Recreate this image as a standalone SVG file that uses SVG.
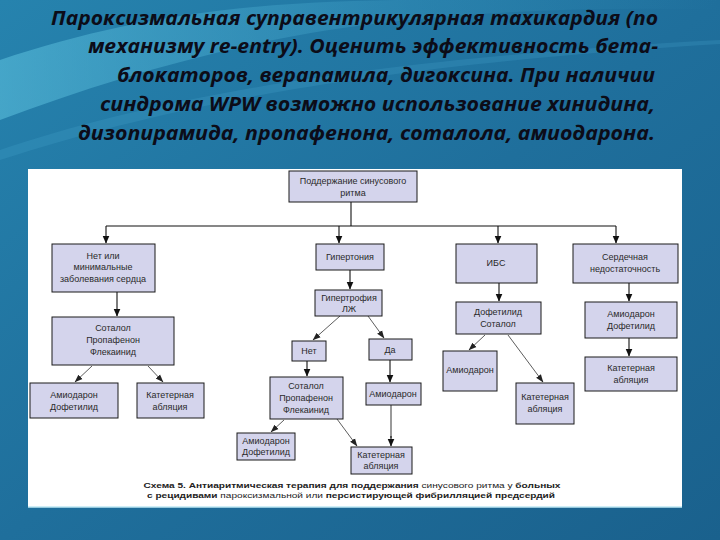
<svg xmlns="http://www.w3.org/2000/svg" width="720" height="540" viewBox="0 0 720 540">
<defs>
  <linearGradient id="bg" x1="0" y1="0" x2="1" y2="1">
    <stop offset="0" stop-color="#2683ae"/>
    <stop offset="0.5" stop-color="#1f6f9c"/>
    <stop offset="1" stop-color="#1a618d"/>
  </linearGradient>
  <linearGradient id="wave" x1="0" y1="0" x2="1" y2="0">
    <stop offset="0" stop-color="#5fc4e0" stop-opacity="0.55"/>
    <stop offset="0.6" stop-color="#3fa0c8" stop-opacity="0.25"/>
    <stop offset="1" stop-color="#3fa0c8" stop-opacity="0"/>
  </linearGradient>
  <marker id="ah" markerUnits="userSpaceOnUse" markerWidth="8" markerHeight="10" viewBox="0 0 8 10" refX="7.5" refY="5" orient="auto">
    <path d="M0,1.5 L8,5 L0,8.5 Z" fill="#111"/>
  </marker>
  <marker id="ahs" markerUnits="userSpaceOnUse" markerWidth="8" markerHeight="8" viewBox="0 0 8 8" refX="7.5" refY="4" orient="auto">
    <path d="M0,1 L8,4 L0,7 Z" fill="#222"/>
  </marker>
  <style>
    .title{font-family:"Open Sans","Liberation Sans",sans-serif;font-style:italic;font-weight:bold;font-size:20px;fill:#0c0c18;text-anchor:end}
    .box rect{fill:#d4d4ec;stroke:#1a1a1a;stroke-width:1}
    .box text{font-family:"Liberation Sans",Arial,sans-serif;font-size:9px;fill:#2a2a2a;text-anchor:middle}
    .conn line,.conn path{stroke:#111;stroke-width:1.1;fill:none}
    .conn .thin{stroke:#333;stroke-width:0.8}
    .conn .grey{stroke:#9a9a9a;stroke-width:2}
    .cap{font-family:"Liberation Sans",Arial,sans-serif;font-size:7.6px;fill:#222;text-anchor:middle}
  </style>
</defs>
<rect width="720" height="540" fill="url(#bg)"/>
<path d="M0,60 C120,20 240,0 420,0 L720,0 L720,10 C560,5 380,15 250,45 C160,65 80,90 0,120 Z" fill="url(#wave)"/>
<path d="M0,150 C150,100 350,60 720,40 L720,44 C360,66 160,108 0,160 Z" fill="#4fb0d6" opacity="0.2"/>

<g id="title">
  <text class="title" x="658" y="25" textLength="607" lengthAdjust="spacingAndGlyphs">Пароксизмальная суправентрикулярная тахикардия (по</text>
  <text class="title" x="658" y="53" textLength="570" lengthAdjust="spacingAndGlyphs">механизму re-entry). Оценить эффективность бета-</text>
  <text class="title" x="655" y="82" textLength="538" lengthAdjust="spacingAndGlyphs">блокаторов, верапамила, дигоксина. При наличии</text>
  <text class="title" x="655" y="111" textLength="555" lengthAdjust="spacingAndGlyphs">синдрома WPW возможно использование хинидина,</text>
  <text class="title" x="655" y="140" textLength="577" lengthAdjust="spacingAndGlyphs">дизопирамида, пропафенона, соталола, амиодарона.</text>
</g>

<rect x="28" y="169" width="654" height="338" fill="#ffffff"/>
<line x1="28" y1="507" x2="682" y2="507" stroke="#bfe8f5" stroke-width="1.5"/>

<g class="conn" id="connectors">
  <line x1="351" y1="202" x2="351" y2="226"/>
  <line x1="106" y1="226" x2="616" y2="226"/>
  <line x1="106" y1="226" x2="106" y2="243" marker-end="url(#ah)"/>
  <line x1="339" y1="226" x2="339" y2="243" marker-end="url(#ah)"/>
  <line x1="498" y1="226" x2="498" y2="243" marker-end="url(#ah)"/>
  <line x1="616" y1="226" x2="616" y2="243" marker-end="url(#ah)"/>
  <line x1="117" y1="292" x2="117" y2="316" marker-end="url(#ah)"/>
  <line class="thin" x1="92" y1="366" x2="75" y2="382" marker-end="url(#ahs)"/>
  <line class="thin" x1="148" y1="366" x2="163" y2="382" marker-end="url(#ahs)"/>
  <line x1="350" y1="270" x2="350" y2="289" marker-end="url(#ah)"/>
  <line class="thin" x1="340" y1="316" x2="313" y2="340" marker-end="url(#ahs)"/>
  <line class="thin" x1="368" y1="316" x2="384" y2="338" marker-end="url(#ahs)"/>
  <line x1="307" y1="361" x2="307" y2="376" marker-end="url(#ah)"/>
  <line x1="390" y1="360" x2="390" y2="382" marker-end="url(#ah)"/>
  <line class="grey" x1="391" y1="405" x2="391" y2="438"/>
  <line x1="391" y1="436" x2="391" y2="446" marker-end="url(#ah)"/>
  <line class="thin" x1="284" y1="420" x2="271" y2="432" marker-end="url(#ahs)"/>
  <line class="thin" x1="337" y1="419" x2="357" y2="446" marker-end="url(#ahs)"/>
  <line x1="499" y1="283" x2="499" y2="301" marker-end="url(#ah)"/>
  <line class="thin" x1="485" y1="335" x2="469" y2="350" marker-end="url(#ahs)"/>
  <line class="thin" x1="508" y1="335" x2="543" y2="382" marker-end="url(#ahs)"/>
  <line x1="629" y1="283" x2="629" y2="301" marker-end="url(#ah)"/>
  <line x1="629" y1="338" x2="629" y2="356" marker-end="url(#ah)"/>
</g>

<g class="box" id="n-root">
  <rect x="289" y="171" width="128" height="31"/>
  <text x="353" y="184">Поддержание синусового</text>
  <text x="353" y="196">ритма</text>
</g>
<g class="box" id="n-none">
  <rect x="52" y="244" width="103" height="48"/>
  <text x="103" y="259">Нет  или</text>
  <text x="103" y="270">минимальные</text>
  <text x="103" y="282">заболевания сердца</text>
</g>
<g class="box" id="n-htn">
  <rect x="316" y="244" width="68" height="26"/>
  <text x="350" y="260">Гипертония</text>
</g>
<g class="box" id="n-ibs">
  <rect x="456" y="244" width="81" height="39"/>
  <text x="496" y="266">ИБС</text>
</g>
<g class="box" id="n-hf">
  <rect x="573" y="244" width="105" height="39"/>
  <text x="625" y="260">Сердечная</text>
  <text x="625" y="272">недостаточность</text>
</g>
<g class="box" id="n-sot1">
  <rect x="52" y="317" width="122" height="48"/>
  <text x="113" y="331">Соталол</text>
  <text x="113" y="343">Пропафенон</text>
  <text x="113" y="355">Флекаинид</text>
</g>
<g class="box" id="n-amio1">
  <rect x="30" y="383" width="88" height="35"/>
  <text x="74" y="398">Амиодарон</text>
  <text x="74" y="410">Дофетилид</text>
</g>
<g class="box" id="n-abl1">
  <rect x="137" y="383" width="67" height="35"/>
  <text x="170" y="398">Катетерная</text>
  <text x="170" y="410">абляция</text>
</g>
<g class="box" id="n-lvh">
  <rect x="315" y="290" width="67" height="26"/>
  <text x="349" y="301">Гипертрофия</text>
  <text x="349" y="312">ЛЖ</text>
</g>
<g class="box" id="n-no">
  <rect x="292" y="341" width="34" height="20"/>
  <text x="309" y="354">Нет</text>
</g>
<g class="box" id="n-yes">
  <rect x="369" y="339" width="43" height="21"/>
  <text x="390" y="353">Да</text>
</g>
<g class="box" id="n-sot2">
  <rect x="270" y="377" width="73" height="42"/>
  <text x="306" y="389">Соталол</text>
  <text x="306" y="401">Пропафенон</text>
  <text x="306" y="413">Флекаинид</text>
</g>
<g class="box" id="n-amio2">
  <rect x="366" y="383" width="55" height="22"/>
  <text x="393" y="397">Амиодарон</text>
</g>
<g class="box" id="n-amio3">
  <rect x="237" y="433" width="58" height="27"/>
  <text x="266" y="444">Амиодарон</text>
  <text x="266" y="455">Дофетилид</text>
</g>
<g class="box" id="n-abl2">
  <rect x="351" y="447" width="61" height="27"/>
  <text x="381" y="458">Катетерная</text>
  <text x="381" y="469">абляция</text>
</g>
<g class="box" id="n-dof">
  <rect x="456" y="302" width="85" height="32"/>
  <text x="498" y="315">Дофетилид</text>
  <text x="498" y="327">Соталол</text>
</g>
<g class="box" id="n-amio4">
  <rect x="443" y="351" width="54" height="40"/>
  <text x="470" y="373">Амиодарон</text>
</g>
<g class="box" id="n-abl3">
  <rect x="516" y="383" width="58" height="41"/>
  <text x="545" y="400">Катетерная</text>
  <text x="545" y="412">абляция</text>
</g>
<g class="box" id="n-amio5">
  <rect x="585" y="302" width="92" height="36"/>
  <text x="631" y="317">Амиодарон</text>
  <text x="631" y="329">Дофетилид</text>
</g>
<g class="box" id="n-abl4">
  <rect x="585" y="357" width="92" height="34"/>
  <text x="631" y="371">Катетерная</text>
  <text x="631" y="383">абляция</text>
</g>

<g id="caption">
  <text class="cap" x="352" y="488" textLength="417" lengthAdjust="spacingAndGlyphs"><tspan font-weight="bold">Схема 5. Антиаритмическая терапия для поддержания</tspan> синусового ритма у <tspan font-weight="bold">больных</tspan></text>
  <text class="cap" x="351" y="498" textLength="408" lengthAdjust="spacingAndGlyphs"><tspan font-weight="bold">с рецидивами</tspan> пароксизмальной или <tspan font-weight="bold">персистирующей фибрилляцией предсердий</tspan></text>
</g>
</svg>
